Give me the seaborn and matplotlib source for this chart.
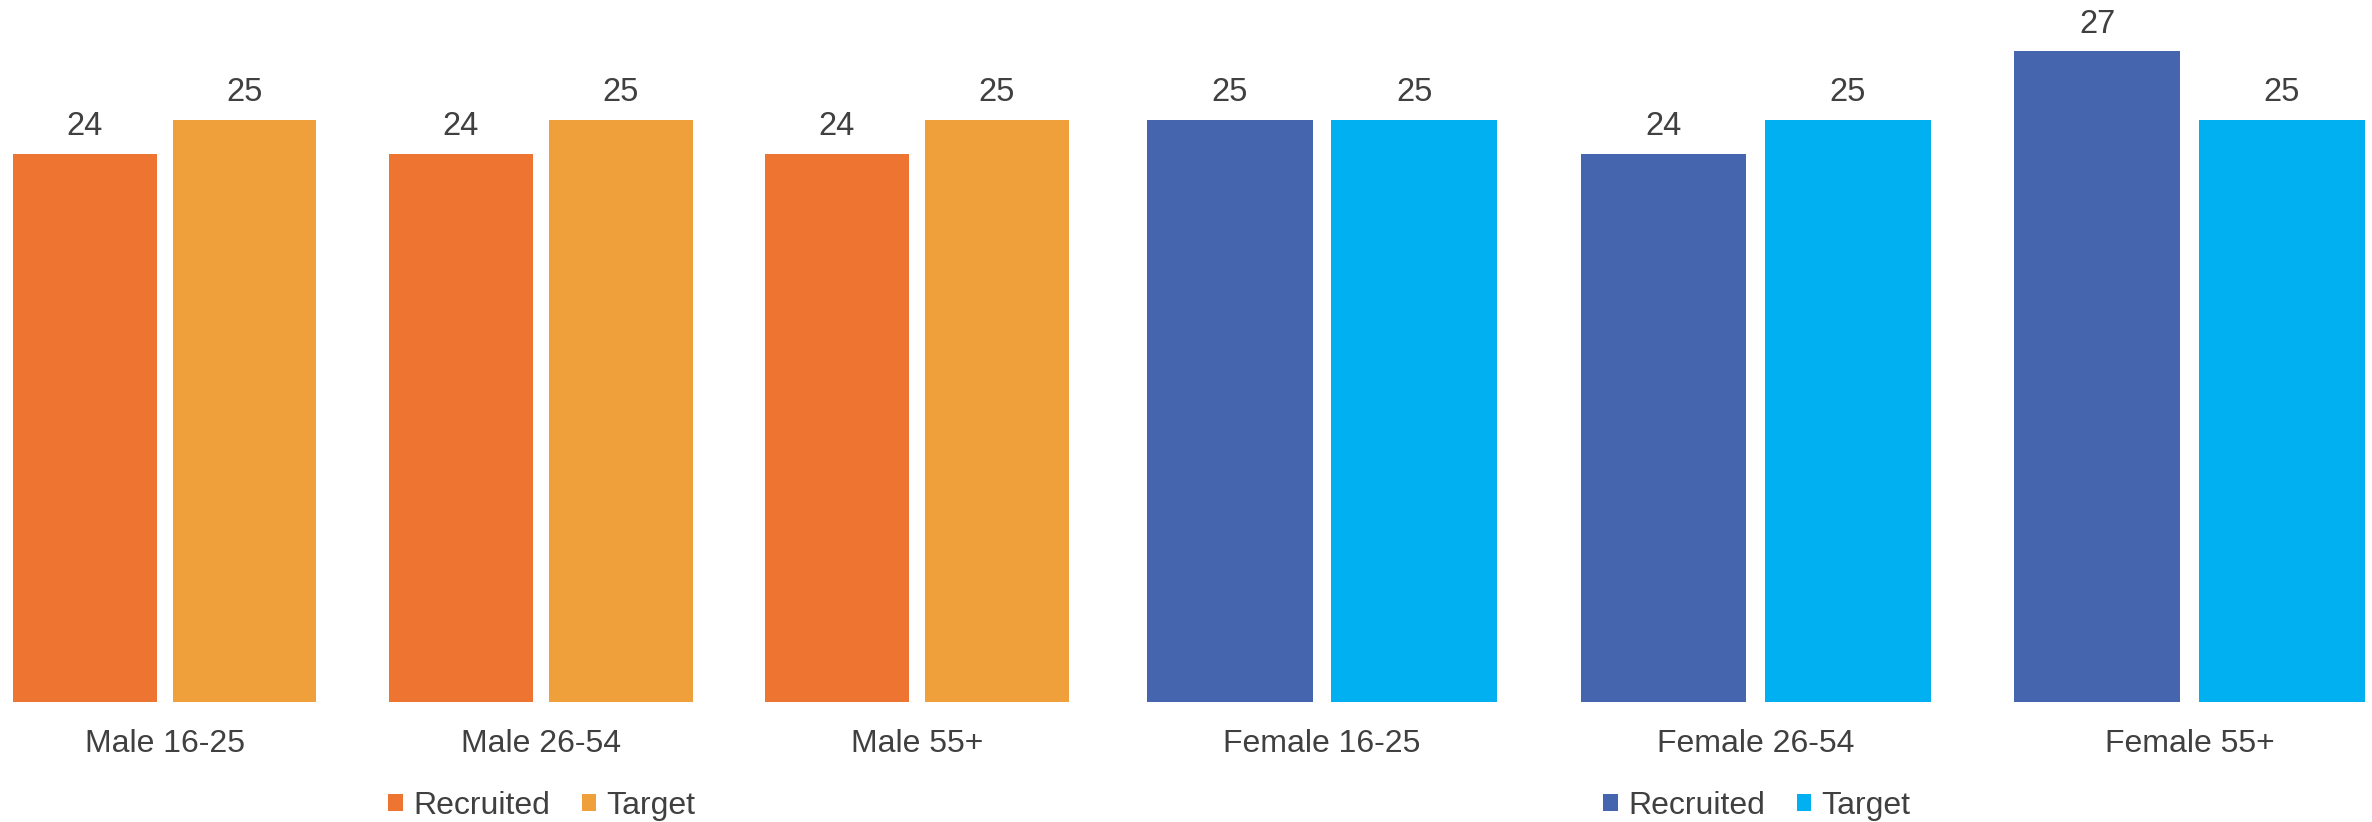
import matplotlib
matplotlib.use("Agg")
import matplotlib.pyplot as plt
from matplotlib.patches import Patch
import seaborn as sns
import pandas as pd

# ---- data ----
male_categories = ["Male 16-25", "Male 26-54", "Male 55+"]
female_categories = ["Female 16-25", "Female 26-54", "Female 55+"]
series = ["Recruited", "Target"]
male_recruited = [24, 24, 24]
male_target = [25, 25, 25]
female_recruited = [25, 24, 27]
female_target = [25, 25, 25]

male_colors = ["#EE7431", "#F0A03A"]
female_colors = ["#4565AF", "#00B0F0"]

sns.set_theme(style="white")
plt.rcParams["font.family"] = ["Liberation Sans", "DejaVu Sans"]
TEXT = "#404040"

W, H = 2372, 822
fig = plt.figure(figsize=(W / 100, H / 100), dpi=100)
fig.patch.set_facecolor("white")

split = 1105
bottom = (H - 702) / H
axL = fig.add_axes([0, bottom, split / W, 1 - bottom])
axR = fig.add_axes([split / W, bottom, (W - split) / W, 1 - bottom])


def make_df(cats, rec, tgt):
    rows = []
    for c, r, t in zip(cats, rec, tgt):
        rows.append({"cat": c, "series": series[0], "value": r})
        rows.append({"cat": c, "series": series[1], "value": t})
    return pd.DataFrame(rows)


panels = [
    (axL, make_df(male_categories, male_recruited, male_target), male_categories, male_colors, (-0.4375, 2.5), 542),
    (axR, make_df(female_categories, female_recruited, female_target), female_categories, female_colors, (-0.5, 2.4207), 1757),
]

for ax, df, cats, cols, xl, legx in panels:
    sns.barplot(data=df, x="cat", y="value", hue="series", order=cats,
                hue_order=series, palette=cols, width=0.85, gap=0.1,
                saturation=1, legend=False, ax=ax, linewidth=0)
    for cont in ax.containers:
        ax.bar_label(cont, fmt="%d", padding=8.5, fontsize=23.5, color=TEXT)
    ax.set_xlim(*xl)
    ax.set_ylim(8, 28.5)
    ax.set_xlabel("")
    ax.set_ylabel("")
    ax.set_yticks([])
    ax.tick_params(axis="x", length=0, pad=19.5, labelsize=23, labelcolor=TEXT)
    for s in ax.spines.values():
        s.set_visible(False)
    ax.patch.set_alpha(0)
    handles = [Patch(facecolor=c, edgecolor="none", label=l) for c, l in zip(cols, series)]
    fig.legend(handles=handles, loc="center", bbox_to_anchor=(legx / W, (H - 806) / H),
               ncol=2, frameon=False, fontsize=23, labelcolor=TEXT,
               handlelength=0.45, handleheight=0.45, handletextpad=0.32,
               columnspacing=1.0, borderpad=0)

fig.savefig("out.png", dpi=100, facecolor="white")
